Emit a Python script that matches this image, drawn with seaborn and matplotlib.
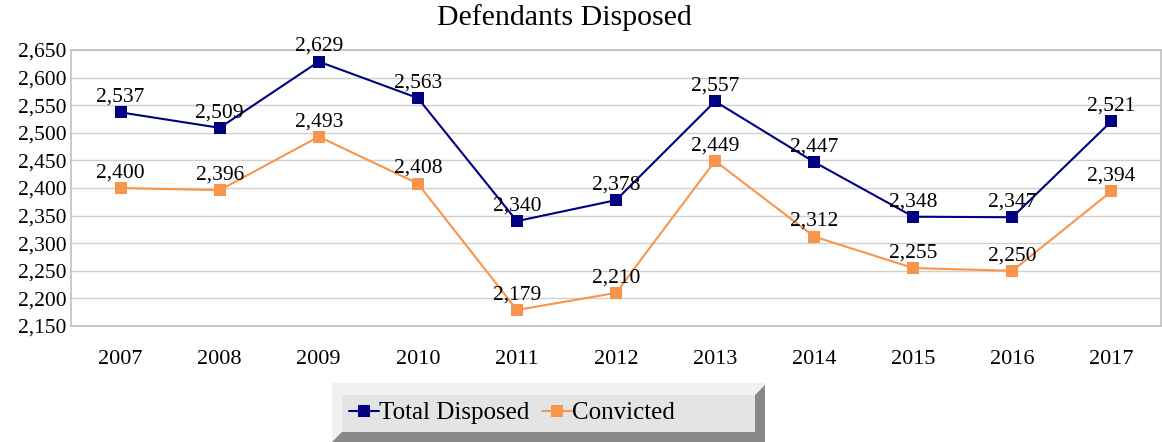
import pandas as pd
import matplotlib.pyplot as plt
import seaborn as sns
from matplotlib.patches import Polygon

years = ['2007', '2008', '2009', '2010', '2011', '2012', '2013', '2014', '2015', '2016', '2017']
total_disposed = [2537, 2509, 2629, 2563, 2340, 2378, 2557, 2447, 2348, 2347, 2521]
convicted = [2400, 2396, 2493, 2408, 2179, 2210, 2449, 2312, 2255, 2250, 2394]
y_ticks = list(range(2150, 2651, 50))

df = pd.DataFrame({
    'Year': years * 2,
    'Value': total_disposed + convicted,
    'Series': ['Total Disposed'] * len(years) + ['Convicted'] * len(years),
})

sns.set_style('white')
plt.rcParams['font.family'] = ['Liberation Serif', 'DejaVu Serif']
plt.rcParams['text.color'] = 'black'
plt.rcParams['xtick.color'] = 'black'
plt.rcParams['ytick.color'] = 'black'

W, H = 1162, 442
fig = plt.figure(figsize=(W / 100, H / 100), dpi=100)
ax = fig.add_axes([71 / W, 1 - 326 / H, (1161 - 71) / W, (326 - 50) / H])

colors = {'Total Disposed': '#000080', 'Convicted': '#f9954a'}
sns.lineplot(data=df, x='Year', y='Value', hue='Series', palette=colors,
             marker='s', markersize=8, markeredgewidth=0, linewidth=1.5,
             sort=False, ax=ax)

# data labels
for vals in (total_disposed, convicted):
    for i, v in enumerate(vals):
        ax.annotate(f'{v:,}', (i, v), xytext=(0, 4), textcoords='offset points',
                    ha='center', va='bottom', fontsize=15.5)

ax.set_xlim(-0.5, len(years) - 0.5)
ax.set_ylim(2150, 2650)
ax.set_yticks(y_ticks)
ax.set_yticklabels([f'{t:,}' for t in y_ticks])
ax.yaxis.grid(True, color='#d0d0d0', linewidth=1)
ax.set_axisbelow(True)
ax.tick_params(axis='y', length=0, pad=3, labelsize=15.5)
ax.tick_params(axis='x', length=0, pad=17, labelsize=16)
ax.set_xlabel('')
ax.set_ylabel('')
for s in ax.spines.values():
    s.set_color('#c0c0c0')
    s.set_linewidth(1.2)

fig.text(564 / W, 1 - 18 / H, 'Defendants Disposed', ha='center', va='center', fontsize=21.5)

# bevelled legend box
def fc(x, y):
    return (x / W, 1 - y / H)

box = dict(closed=True, transform=fig.transFigure, edgecolor='none', zorder=-1)
fig.add_artist(Polygon([fc(332, 383), fc(765, 383), fc(765, 442), fc(332, 442)],
                       facecolor='#f0f0f0', **box))
fig.add_artist(Polygon([fc(342, 432), fc(755, 432), fc(755, 395), fc(765, 385),
                        fc(765, 442), fc(332, 442)], facecolor='#888888', **box))
fig.add_artist(Polygon([fc(342, 395), fc(755, 395), fc(755, 432), fc(342, 432)],
                       facecolor='#e4e4e4', **box))

handles, labels = ax.get_legend_handles_labels()
ax.get_legend().remove()
fig.legend(handles, labels, loc='center', bbox_to_anchor=fc(512, 413),
           frameon=False, ncol=2, fontsize=18,
           handlelength=1.2, handletextpad=0.0, columnspacing=0.5, borderpad=0)

fig.savefig('out.png', dpi=100)
